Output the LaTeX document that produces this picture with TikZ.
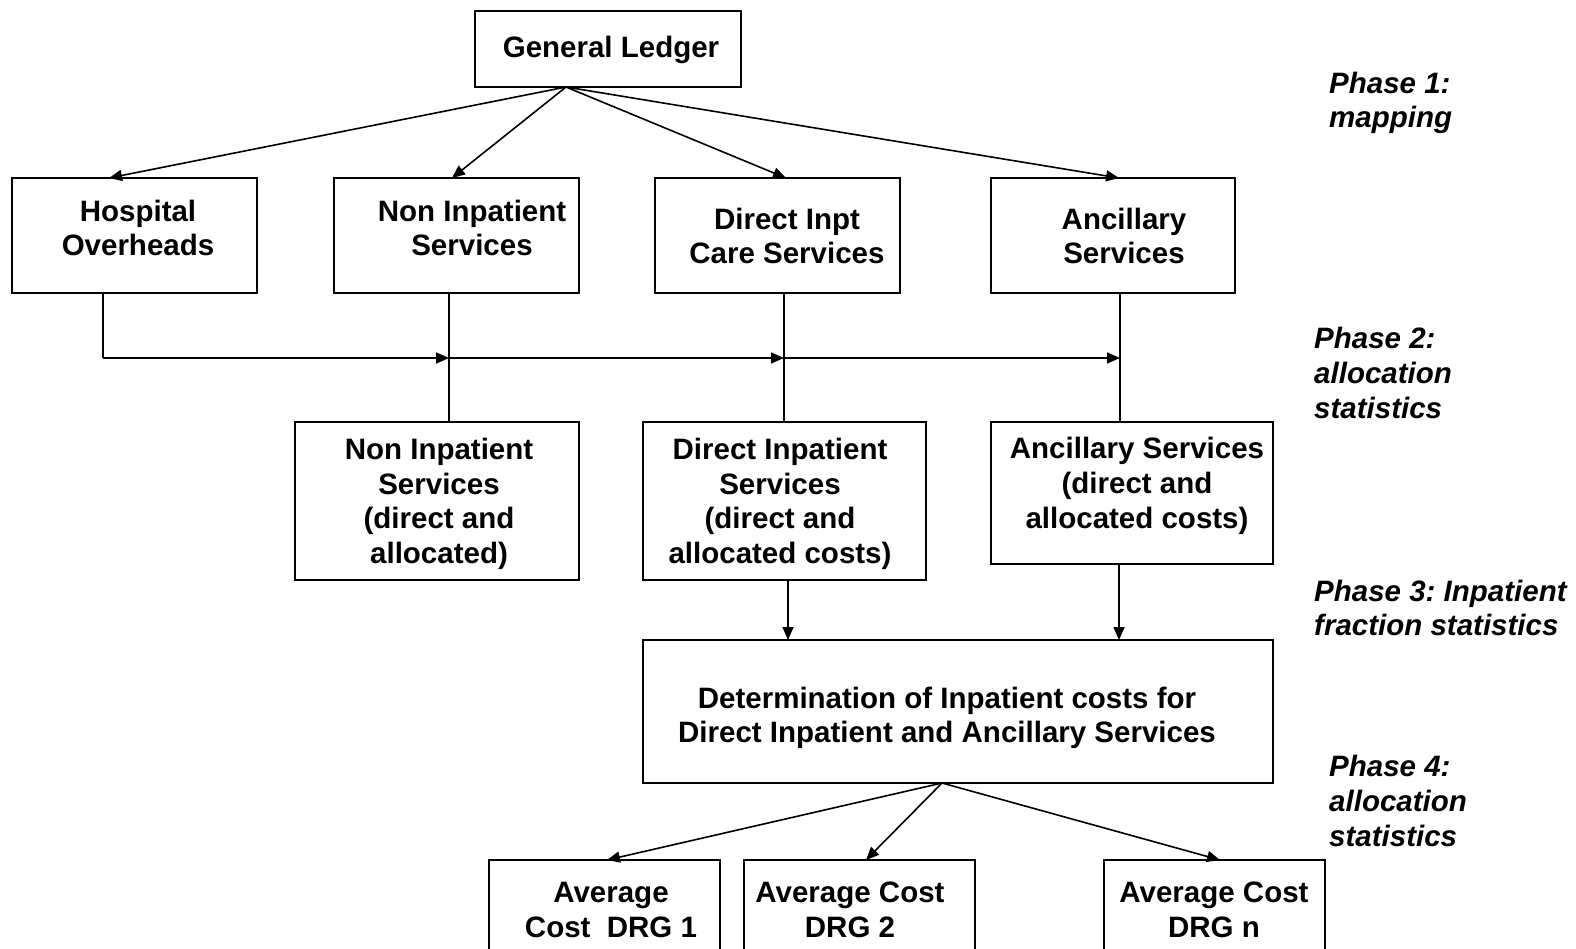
\documentclass[tikz,border=0pt]{standalone}
\usepackage{fontspec}
\setmainfont{Liberation Sans}
\usetikzlibrary{arrows.meta}
\frenchspacing
\begin{document}
\begin{tikzpicture}[x=1pt,y=-1pt,
  box/.style={draw, line width=1.6pt, inner sep=0pt, outer sep=0pt},
  txt/.style={align=center, inner sep=0pt, font=\fontsize{29.5}{34.7}\selectfont\bfseries},
  phase/.style={align=left, anchor=west, inner sep=0pt, font=\fontsize{29.5}{34.7}\selectfont\bfseries\itshape},
  arr/.style={line width=1.6pt, -{Triangle[length=13pt,width=11pt]}},
  ln/.style={line width=1.6pt}]
\useasboundingbox (0,0) rectangle (1576,948);
\clip (0,0) rectangle (1576,948);
% boxes
\node[box, minimum width=266, minimum height=76] (gl) at (608,49) {};
\node[box, minimum width=245, minimum height=115] (hosp) at (134.5,235.5) {};
\node[box, minimum width=245, minimum height=115] (ni) at (456.5,235.5) {};
\node[box, minimum width=245, minimum height=115] (di) at (777.5,235.5) {};
\node[box, minimum width=244, minimum height=115] (anc) at (1113,235.5) {};
\node[box, minimum width=284, minimum height=158] (ni2) at (437,501) {};
\node[box, minimum width=283, minimum height=158] (di2) at (784.5,501) {};
\node[box, minimum width=282, minimum height=142] (anc2) at (1132,493) {};
\node[box, minimum width=630, minimum height=143] (det) at (958,711.5) {};
\node[box, minimum width=231, minimum height=140] (drg1) at (604.5,930) {};
\node[box, minimum width=231, minimum height=140] (drg2) at (859.5,930) {};
\node[box, minimum width=221, minimum height=140] (drgn) at (1214.5,930) {};
% texts
\node[txt] (tgl) at (611,50) {General Ledger};
\node[txt] (thosp) at (138,228) {Hospital\\Overheads};
\node[txt] (tni) at (472,228) {Non Inpatient\\Services};
\node[txt] (tdi) at (787,236) {Direct Inpt\\Care Services};
\node[txt] (tanc) at (1124,236) {Ancillary\\Services};
\node[txt] (tni2) at (439,504) {Non Inpatient\\Services\\(direct and\\allocated)};
\node[txt] (tdi2) at (780,504) {Direct Inpatient\\Services\\(direct and\\allocated costs)};
\node[txt] (tanc2) at (1137,486) {Ancillary Services\\(direct and\\allocated costs)};
\node[txt] (tdet) at (947,718) {Determination of Inpatient costs for\\Direct Inpatient and Ancillary Services};
\node[txt] (tdrg1) at (611,910) {Average\\Cost\ \ DRG 1};
\node[txt] (tdrg2) at (850,910) {Average Cost\\DRG 2};
\node[txt] (tdrgn) at (1214,910) {Average Cost\\DRG n};
\node[phase] (p1) at (1329,103) {Phase 1:\\mapping};
\node[phase] (p2) at (1314,373) {Phase 2:\\allocation\\statistics};
\node[phase] (p3) at (1314,608) {Phase 3: Inpatient\\fraction statistics};
\node[phase] (p4) at (1329,801) {Phase 4:\\allocation\\statistics};
% phase 1 arrows
\draw[arr] ([xshift=-42pt]gl.south) -- ([xshift=-25.5pt]hosp.north);
\draw[arr] ([xshift=-42pt]gl.south) -- ([xshift=-4.5pt]ni.north);
\draw[arr] ([xshift=-42pt]gl.south) -- ([xshift=8.5pt]di.north);
\draw[arr] ([xshift=-42pt]gl.south) -- ([xshift=6pt]anc.north);
% phase 2
\coordinate (j0) at (103,358);
\coordinate (j1) at (449,358);
\coordinate (j2) at (784,358);
\coordinate (j3) at (1120,358);
\draw[ln] (j0 |- hosp.south) -- (j0);
\draw[arr] (j0) -- (j1);
\draw[arr] (j1) -- (j2);
\draw[arr] (j2) -- (j3);
\draw[ln] (j1 |- ni.south) -- (j1 |- ni2.north);
\draw[ln] (j2 |- di.south) -- (j2 |- di2.north);
\draw[ln] (j3 |- anc.south) -- (j3 |- anc2.north);
% phase 3
\draw[arr] ([xshift=3.5pt]di2.south) -- ([xshift=3.5pt]di2.south |- det.north);
\draw[arr] ([xshift=-13pt]anc2.south) -- ([xshift=-13pt]anc2.south |- det.north);
% phase 4
\draw[arr] ([xshift=-16pt]det.south) -- ([xshift=2.5pt]drg1.north);
\draw[arr] ([xshift=-16pt]det.south) -- ([xshift=6.5pt]drg2.north);
\draw[arr] ([xshift=-16pt]det.south) -- ([xshift=5.5pt]drgn.north);
\end{tikzpicture}
\end{document}
